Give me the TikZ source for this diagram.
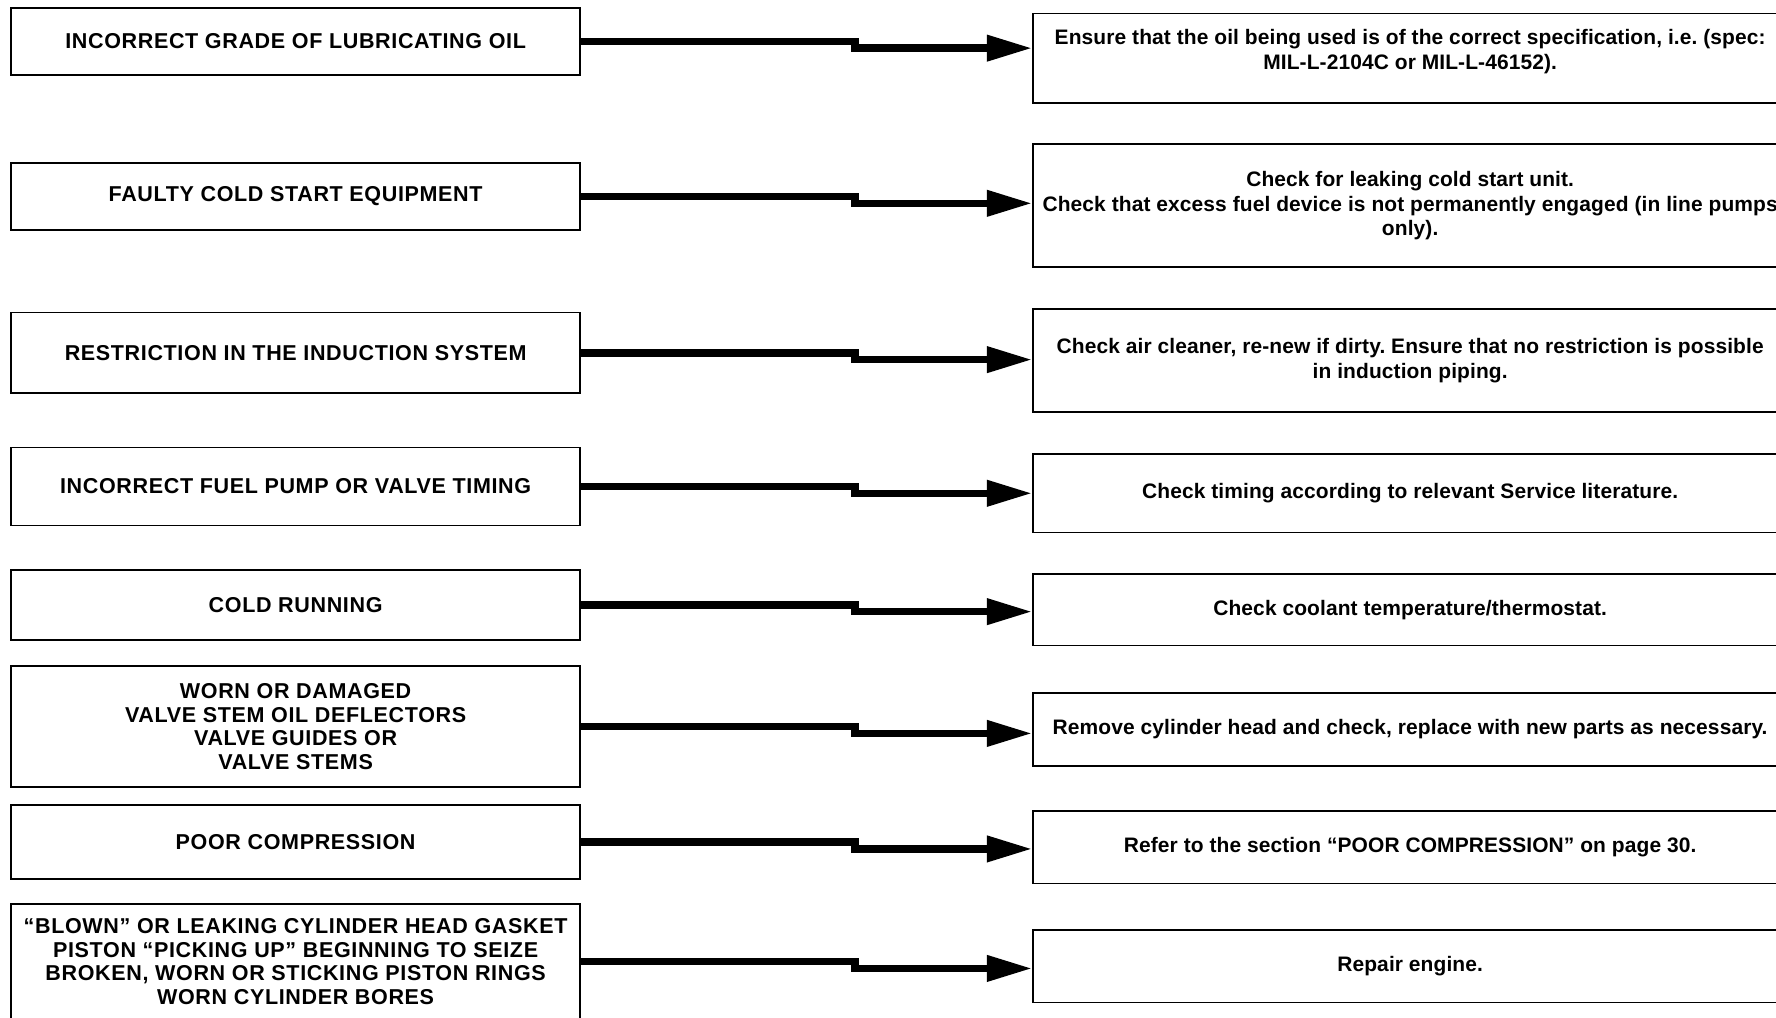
\documentclass[tikz,border=0pt]{standalone}
\usepackage{fontspec}
\setmainfont{Liberation Sans}
\newfontfamily\causefont[LetterSpace=3]{Liberation Sans}
\newfontfamily\curefont[LetterSpace=0.5]{Liberation Sans}
\usetikzlibrary{arrows.meta}
\frenchspacing
\begin{document}
\begin{tikzpicture}[x=1pt,y=-1pt]
        \tikzset{cause/.style={draw, line width=1.5pt, inner sep=0pt, minimum width=502pt, align=center,
                    font=\causefont\bfseries\fontsize{19}{21}\selectfont},
                 cure/.style={draw, line width=1.5pt, inner sep=0pt, minimum width=666pt, align=center,
                    font=\curefont\bfseries\fontsize{18.5}{21.5}\selectfont},
                 link/.style={line width=6.5pt, -{Triangle[length=40pt,width=22pt]}}}
        \useasboundingbox (0,0) rectangle (1568,898);
        \coordinate (kink) at (755,0);

        \draw node[cause, minimum height=59pt] (c1) at (261,36.5) {INCORRECT GRADE OF LUBRICATING OIL};
        \draw node[cause, minimum height=59pt] (c2) at (261,173.5) {FAULTY COLD START EQUIPMENT};
        \draw node[cause, minimum height=71pt] (c3) at (261,311.5) {RESTRICTION IN THE INDUCTION SYSTEM};
        \draw node[cause, minimum height=69pt] (c4) at (261,429.5) {INCORRECT FUEL PUMP OR VALVE TIMING};
        \draw node[cause, minimum height=62pt] (c5) at (261,534) {COLD RUNNING};
        \draw node[cause, minimum height=107pt] (c6) at (261,641.5) {WORN OR DAMAGED\\VALVE STEM OIL DEFLECTORS\\VALVE GUIDES OR\\VALVE STEMS};
        \draw node[cause, minimum height=65pt] (c7) at (261,743.5) {POOR COMPRESSION};
        \draw node[cause, minimum height=102pt] (c8) at (261,849) {“BLOWN” OR LEAKING CYLINDER HEAD GASKET\\PISTON “PICKING UP” BEGINNING TO SEIZE\\BROKEN, WORN OR STICKING PISTON RINGS\\WORN CYLINDER BORES};

        \draw node[cure, minimum height=79pt] (r1) at (1245,51.5) {Ensure that the oil being used is of the correct specification, i.e. (spec:\\MIL-L-2104C or MIL-L-46152).\\[-12pt]\strut};
        \draw node[cure, minimum height=109pt] (r2) at (1245,181.5) {Check for leaking cold start unit.\\Check that excess fuel device is not permanently engaged (in line pumps\\only).};
        \draw node[cure, minimum height=91pt] (r3) at (1245,318.5) {Check air cleaner, re-new if dirty. Ensure that no restriction is possible\\in induction piping.};
        \draw node[cure, minimum height=69pt] (r4) at (1245,435.5) {Check timing according to relevant Service literature.};
        \draw node[cure, minimum height=63pt] (r5) at (1245,538.5) {Check coolant temperature/thermostat.};
        \draw node[cure, minimum height=64pt] (r6) at (1245,644) {Remove cylinder head and check, replace with new parts as necessary.};
        \draw node[cure, minimum height=64pt] (r7) at (1245,748) {Refer to the section “POOR COMPRESSION” on page 30.};
        \draw node[cure, minimum height=64pt] (r8) at (1245,853) {Repair engine.};

        \draw[link] (c1) -- (c1 -| kink) -- ++(0,6) coordinate (k1) -- (k1 -| r1.west);
        \draw[link] (c2) -- (c2 -| kink) -- ++(0,6) coordinate (k2) -- (k2 -| r2.west);
        \draw[link] (c3) -- (c3 -| kink) -- ++(0,6) coordinate (k3) -- (k3 -| r3.west);
        \draw[link] (c4) -- (c4 -| kink) -- ++(0,6) coordinate (k4) -- (k4 -| r4.west);
        \draw[link] (c5) -- (c5 -| kink) -- ++(0,6) coordinate (k5) -- (k5 -| r5.west);
        \draw[link] (c6) -- (c6 -| kink) -- ++(0,6) coordinate (k6) -- (k6 -| r6.west);
        \draw[link] (c7) -- (c7 -| kink) -- ++(0,6) coordinate (k7) -- (k7 -| r7.west);
        \draw[link] (c8) -- (c8 -| kink) -- ++(0,6) coordinate (k8) -- (k8 -| r8.west);
    \end{tikzpicture}
\end{document}
